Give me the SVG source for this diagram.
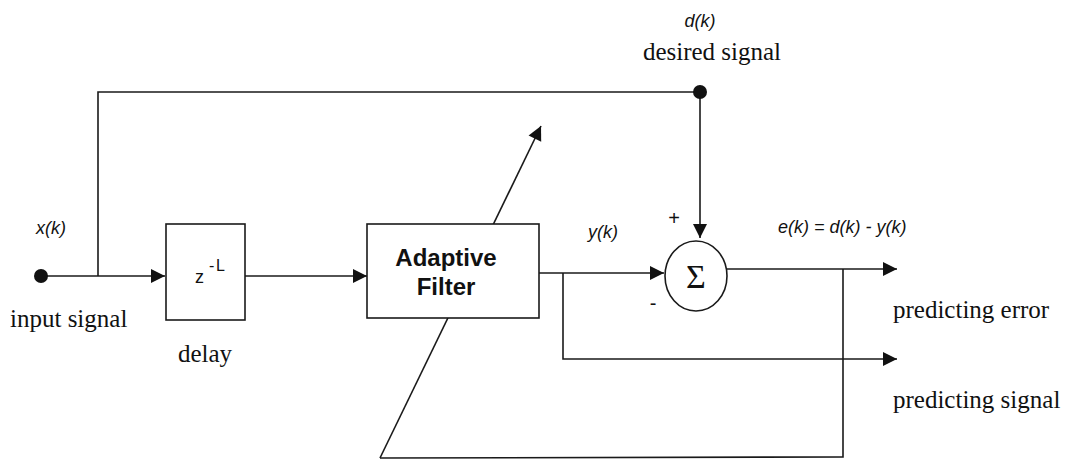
<svg xmlns="http://www.w3.org/2000/svg" width="1069" height="461" viewBox="0 0 1069 461">
<defs>
<style>
.ln{fill:none;stroke:#1a1a1a;stroke-width:1.6}
.bx{fill:#fff;stroke:#1a1a1a;stroke-width:1.6}
.srf{font-family:"Liberation Serif",serif;font-size:25px;fill:#111}
.it{font-family:"Liberation Sans",sans-serif;font-style:italic;font-size:18px;fill:#111}
.sn{font-family:"Liberation Sans",sans-serif;fill:#111}
</style>
<marker id="ah" markerUnits="userSpaceOnUse" markerWidth="16" markerHeight="16" viewBox="0 0 16 16" refX="15" refY="8" orient="auto">
<path d="M1,1 L15,8 L1,15 Z" fill="#111"/>
</marker>
</defs>
<rect width="1069" height="461" fill="#fff"/>
<g id="connectors">
<line class="ln" x1="41" y1="276" x2="165" y2="276" marker-end="url(#ah)"/>
<polyline class="ln" points="98,276 98,92 700,92"/>
<line class="ln" x1="700" y1="92" x2="700" y2="238" marker-end="url(#ah)"/>
<line class="ln" x1="245" y1="276" x2="367" y2="276" marker-end="url(#ah)"/>
<line class="ln" x1="380" y1="458" x2="541" y2="126" marker-end="url(#ah)"/>
<line class="ln" x1="539" y1="273" x2="664" y2="273" marker-end="url(#ah)"/>
<polyline class="ln" points="563,273 563,359 897,359" marker-end="url(#ah)"/>
<line class="ln" x1="727" y1="269" x2="897" y2="269" marker-end="url(#ah)"/>
<polyline class="ln" points="843,269 843,457 380,458"/>
</g>
<g id="input"><circle cx="41" cy="276" r="7" fill="#111"/>
<text class="it" x="36" y="234">x(k)</text>
<text class="srf" x="10" y="327">input signal</text></g>
<g id="desired"><circle cx="700" cy="92" r="7" fill="#111"/>
<text class="it" x="700" y="27" text-anchor="middle">d(k)</text>
<text class="srf" x="712" y="60" text-anchor="middle">desired signal</text></g>
<g id="delay"><rect class="bx" x="166" y="224" width="79" height="96"/>
<text class="sn" x="195" y="283" font-size="18">z</text>
<text class="sn" x="209" y="271" font-size="16">-</text>
<text class="sn" x="216" y="271" font-size="16">L</text>
<text class="srf" x="205" y="362" text-anchor="middle">delay</text></g>
<g id="adaptive"><rect class="bx" x="367" y="224" width="172" height="94"/>
<text class="sn" x="446" y="266" font-size="24" font-weight="bold" text-anchor="middle">Adaptive</text>
<text class="sn" x="446" y="295" font-size="24" font-weight="bold" text-anchor="middle">Filter</text></g>
<g id="sum"><ellipse class="bx" cx="696" cy="276" rx="31" ry="35"/>
<text x="696" y="288" font-family="Liberation Serif,serif" font-size="34" fill="#111" text-anchor="middle">Σ</text>
<text class="sn" x="674" y="225" font-size="20" text-anchor="middle">+</text>
<text class="sn" x="653" y="310" font-size="20" text-anchor="middle">-</text></g>
<g id="labels">
<text class="it" x="588" y="238">y(k)</text>
<text class="it" x="778" y="233">e(k) = d(k) - y(k)</text>
<text class="srf" x="893" y="318">predicting error</text>
<text class="srf" x="893" y="408">predicting signal</text>
</g>
</svg>
